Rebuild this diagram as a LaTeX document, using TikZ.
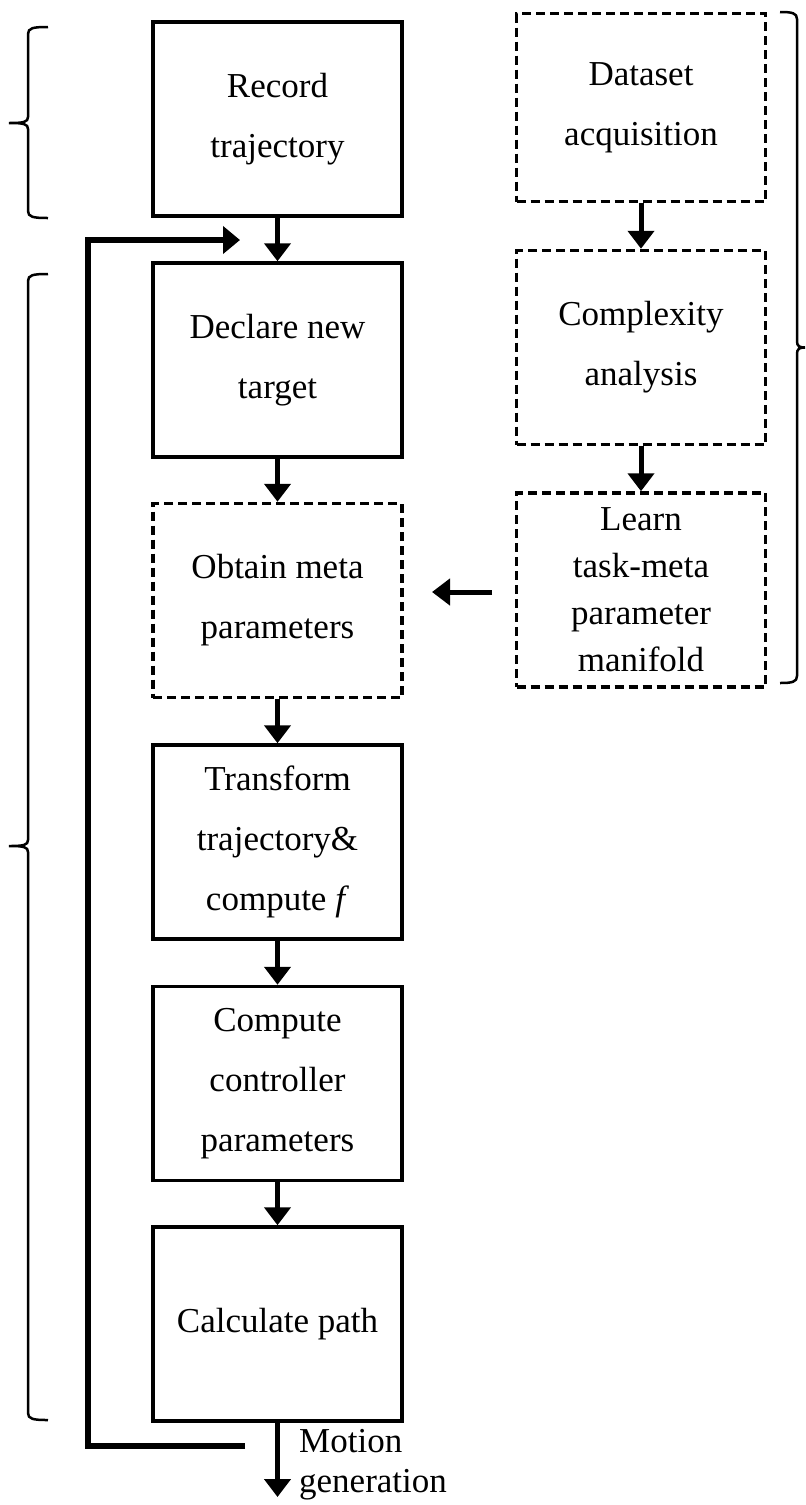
\documentclass[tikz,border=0pt]{standalone}
\usepackage{fontspec}
\setmainfont{Liberation Serif}
\usetikzlibrary{arrows.meta}
\begin{document}
\begin{tikzpicture}[x=1pt,y=-1pt,
  box/.style={draw, line width=3.5pt, minimum width=249pt, minimum height=194pt, inner sep=0pt, align=center, font=\fontsize{35}{60}\selectfont},
  dbox/.style={box, dash pattern=on 9pt off 5pt},
  arr/.style={line width=5pt, -{Triangle[width=26pt,length=18pt]}},
  fbarr/.style={line width=6.5pt, line join=miter, -{Triangle[width=27pt,length=17pt]}},
  brc/.style={line width=2.5pt},
  lbl/.style={inner sep=0pt, align=left, font=\fontsize{35}{40}\selectfont}
]
\useasboundingbox (0,0) rectangle (806,1505);

% left column
\node[box]  (rec) at (277.5,119)   {Record\\trajectory};
\node[box]  (dec) at (277.5,360)   {Declare new\\target};
\node[dbox] (obt) at (277.5,600.5) {Obtain meta\\parameters};
\node[box]  (tra) at (277.5,842)   {Transform\\trajectory\&\\compute \textit{f}};
\node[box]  (com) at (277.5,1083.5){Compute\\controller\\parameters};
\node[box]  (cal) at (277.5,1324)  {Calculate path};

% right column
\node[dbox, minimum height=188pt] (dat) at (641,107.5) {Dataset\\acquisition};
\node[dbox] (cpx) at (641,347.5) {Complexity\\analysis};
\node[dbox, font=\fontsize{35}{47}\selectfont] (lrn) at (641,590) {Learn\\task-meta\\parameter\\manifold};

% arrows
\draw[arr] (rec.south) -- (dec.north);
\draw[arr] (dec.south) -- (obt.north);
\draw[arr] (obt.south) -- (tra.north);
\draw[arr] (tra.south) -- (com.north);
\draw[arr] (com.south) -- (cal.north);
\draw[arr] (dat.south) -- (cpx.north);
\draw[arr] (cpx.south) -- (lrn.north);

\coordinate (la) at (492,592);
\coordinate (lb) at (432,592);
\draw[arr] (la) -- (lb);

% output
\coordinate (out) at (277.5,1497);
\draw[arr] (cal.south) -- (out);
\node[lbl, anchor=north west] (mg) at (299,1429) {Motion\\generation};

% feedback
\coordinate (fb1) at (245,1446);
\coordinate (fb2) at (240,240);
\draw[fbarr] (fb1) -- (88,1446) -- (88,240) -- (fb2);

% braces
\draw[brc] (48,27) .. controls (33,27) and (28,28) .. (28,34) -- (28,117)
  .. controls (28,122) and (24,123) .. (9,123)
  .. controls (24,123) and (28,124) .. (28,129) -- (28,211)
  .. controls (28,217) and (33,218) .. (48,218);
\draw[brc] (48,274) .. controls (33,274) and (28,275) .. (28,281) -- (28,840)
  .. controls (28,845) and (24,846) .. (9,846)
  .. controls (24,846) and (28,847) .. (28,852) -- (28,1413)
  .. controls (28,1419) and (33,1420) .. (48,1420);
\draw[brc] (780,12) .. controls (792,12) and (797,13) .. (797,19) -- (797,341)
  .. controls (797,346) and (799,347.5) .. (805,347.5)
  .. controls (799,347.5) and (797,349) .. (797,354) -- (797,676)
  .. controls (797,682) and (792,683) .. (780,683);
\end{tikzpicture}
\end{document}
